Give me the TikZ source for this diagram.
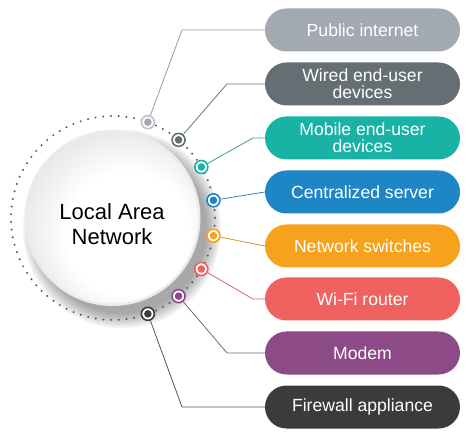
\documentclass[tikz,border=0pt]{standalone}
\usepackage{fontspec}
\setmainfont{Liberation Sans}
\definecolor{cA}{HTML}{A3A9B1}
\definecolor{cAr}{HTML}{BCC1C6}
\definecolor{cB}{HTML}{646E73}
\definecolor{cC}{HTML}{19B3A5}
\definecolor{cD}{HTML}{1E86C5}
\definecolor{cE}{HTML}{F6A21D}
\definecolor{cF}{HTML}{EF625F}
\definecolor{cG}{HTML}{8C4A86}
\definecolor{cH}{HTML}{3A3B3D}
\definecolor{dotc}{HTML}{555555}
\pgfdeclareradialshading{ballin}{\pgfpoint{7bp}{-7bp}}{color(0bp)=(white); color(18bp)=(white); color(32bp)=(black!11); color(50bp)=(black!11)}
\begin{document}
\begin{tikzpicture}[x=1pt,y=-1pt,
  pill/.style={fill=#1, rounded corners=21.5pt, minimum width=195pt, minimum height=43pt,
    inner sep=0pt, text=white, align=center, font=\fontsize{17.6}{17}\selectfont},
  marker/.style={circle, draw=#1, line width=1.6pt, fill=white, minimum size=13pt, inner sep=0pt},
  conn/.style={draw=#1!65!gray, line width=0.8pt},
]
\useasboundingbox (0,0) rectangle (474,438);
\coordinate (c) at (113,218);
% shadow of the big circle
\foreach \r in {99,97,...,85}{
  \fill[black, opacity=0.05] (122,229) circle (\r);
}
% dotted ring
\draw[dotc, line width=2.2pt, line cap=round, dash pattern=on 0pt off 7.72pt] (c) circle (102);
% big circle: rim and shaded face
\fill[black!8] (112.5,218) circle (88);
\node[circle, minimum size=171pt, inner sep=0pt, shading=ballin] (lan) at (112.5,218) {};
\node[align=center, font=\fontsize{22}{25}\selectfont] (lant) at (112,224) {Local Area\\Network};
% pills
\node[pill=cA] (p1) at (362.5,30) {Public internet};
\node[pill=cB] (p2) at (362.5,84) {Wired end-user\\devices};
\node[pill=cC] (p3) at (362.5,138) {Mobile end-user\\devices};
\node[pill=cD] (p4) at (362.5,192) {Centralized server};
\node[pill=cE] (p5) at (362.5,246) {Network switches};
\node[pill=cF] (p6) at (362.5,299) {Wi-Fi router};
\node[pill=cG] (p7) at (362.5,353) {Modem};
\node[pill=cH] (p8) at (362.5,407) {Firewall appliance};
% elbows
\coordinate (e1) at (182,30);
\coordinate (e2) at (227,84);
\coordinate (e3) at (253,138);
\coordinate (e6) at (253,299);
\coordinate (e7) at (227,353);
\coordinate (e8) at (182,407);
% markers
\node[marker=cAr] (m1) at ([shift={(-70:102)}]c) {};
\node[marker=cB] (m2) at ([shift={(-50:102)}]c) {};
\node[marker=cC] (m3) at ([shift={(-30:102)}]c) {};
\node[marker=cD] (m4) at ([shift={(-10:102)}]c) {};
\node[marker=cE] (m5) at ([shift={(10:102)}]c) {};
\node[marker=cF] (m6) at ([shift={(30:102)}]c) {};
\node[marker=cG] (m7) at ([shift={(50:102)}]c) {};
\node[marker=cH] (m8) at ([shift={(70:102)}]c) {};
\foreach \i/\col in {1/cA,2/cB,3/cC,4/cD,5/cE,6/cF,7/cG,8/cH}{
  \fill[\col] (m\i) circle (3.8);
}
% connectors
\draw[conn=cA] (m1) -- (e1) -- (p1.west);
\draw[conn=cB] (m2) -- (e2) -- (p2.west);
\draw[conn=cC] (m3) -- (e3) -- (p3.west);
\draw[conn=cD] (m4) -- (p4.west);
\draw[conn=cE] (m5) -- (p5.west);
\draw[conn=cF] (m6) -- (e6) -- (p6.west);
\draw[conn=cG] (m7) -- (e7) -- (p7.west);
\draw[conn=cH] (m8) -- (e8) -- (p8.west);
\end{tikzpicture}
\end{document}
